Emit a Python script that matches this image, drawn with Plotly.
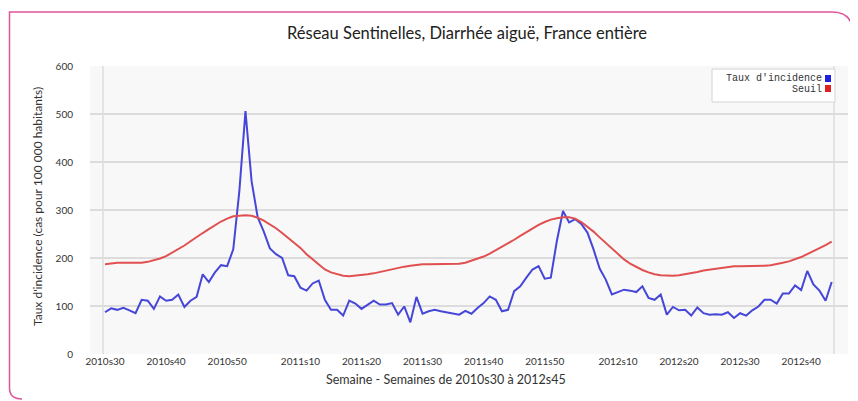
import plotly.graph_objects as go

# ---- data -------------------------------------------------------------
weeks = ([f"2010s{w:02d}" for w in range(30, 53)]
         + [f"2011s{w:02d}" for w in range(1, 53)]
         + [f"2012s{w:02d}" for w in range(1, 46)])

incidence = [87, 95, 92, 96, 91, 85, 113, 111, 94, 120,
             111, 113, 124, 98, 111, 119, 166, 150, 170, 185,
             183, 218, 340, 506, 360, 285, 255, 220, 208, 200,
             164, 162, 138, 132, 147, 153, 113, 92, 92, 80,
             111, 105, 94, 103, 111, 103, 103, 106, 82, 99,
             66, 119, 84, 89, 92, 89, 87, 84, 82, 90,
             84, 96, 106, 120, 113, 89, 92, 131, 141, 159,
             176, 183, 157, 159, 236, 298, 274, 281, 271, 253,
             218, 178, 155, 124, 129, 134, 132, 129, 141, 117,
             113, 124, 82, 98, 91, 92, 80, 97, 85, 82,
             83, 82, 87, 75, 85, 80, 91, 99, 113, 113,
             105, 126, 126, 143, 133, 173, 145, 132, 111, 150]

seuil = [187, 189, 190, 190, 190, 190, 190, 192, 195, 199,
         204, 211, 218, 226, 235, 244, 252, 260, 268, 276,
         282, 287, 288, 289, 288, 284, 278, 270, 262, 252,
         242, 232, 221, 208, 197, 185, 176, 170, 166, 163,
         162, 163, 164, 166, 168, 171, 174, 177, 180, 182,
         184, 186, 187, 187, 187, 187, 187, 187, 188, 190,
         194, 198, 203, 209, 216, 223, 230, 238, 246, 254,
         262, 269, 275, 280, 283, 285, 285, 282, 275, 265,
         255, 243, 231, 220, 208, 197, 188, 181, 175, 170,
         166, 164, 163, 163, 164, 166, 168, 171, 174, 176,
         178, 180, 182, 183, 183, 183, 184, 184, 184, 185,
         187, 190, 193, 197, 202, 208, 214, 220, 227, 234]

tick_labels = ["2010s30", "2010s40", "2010s50", "2011s10", "2011s20",
               "2011s30", "2011s40", "2011s50", "2012s10", "2012s20",
               "2012s30", "2012s40"]
tick_weeks = ["2010s30", "2010s40", "2010s50", "2011s10", "2011s20",
              "2011s30", "2011s40", "2011s50", "2012s10", "2012s20",
              "2012s30", "2012s40"]

# ---- layout geometry (reference pixel coords, page has 8px body margin) --
W, H = 858, 401
OFF = 8
PL, PR, PT, PB = 90, 848, 66, 354          # plot area in reference pixels
ML, MT = PL - OFF, PT - OFF
MR, MB = W - (PR - OFF), H - (PB - OFF)
PW, PH = PR - PL, PB - PT


def px(x):
    return (x - PL) / PW


def py(y):
    return (PB - y) / PH


fig = go.Figure()
fig.add_trace(go.Scatter(x=weeks, y=incidence, mode="lines",
                         name="Taux d'incidence",
                         line=dict(color="#4646d8", width=2)))
fig.add_trace(go.Scatter(x=weeks, y=seuil, mode="lines", name="Seuil",
                         line=dict(color="#e05050", width=2)))

shapes = []
for xx in (103, 834):
    shapes.append(dict(type="line", xref="paper", yref="paper",
                       x0=px(xx), x1=px(xx), y0=0, y1=1,
                       line=dict(color="#dedede", width=1.5), layer="below"))
shapes.append(dict(type="rect", xref="paper", yref="paper",
                   x0=px(712), x1=px(835), y0=py(69), y1=py(102),
                   fillcolor="white", line=dict(color="#d4d4d4", width=1)))
shapes.append(dict(type="rect", xref="paper", yref="paper",
                   x0=px(825), x1=px(831), y0=py(75), y1=py(82),
                   fillcolor="#2020e0", line=dict(width=0)))
shapes.append(dict(type="rect", xref="paper", yref="paper",
                   x0=px(825), x1=px(831), y0=py(85), y1=py(92),
                   fillcolor="#e02020", line=dict(width=0)))
LX = 9.5
frame = (f"M {px(LX)},{py(388)} L {px(LX)},{py(12)} L {px(832)},{py(12)} "
         f"Q {px(853)},{py(12)} {px(853)},{py(34)} L {px(853)},{py(400)}")
shapes.append(dict(type="path", xref="paper", yref="paper", path=frame,
                   line=dict(color="#e0559c", width=1.5)))
bottom = f"M {px(LX)},{py(388)} Q {px(LX)},{py(399)} {px(22)},{py(399)}"
shapes.append(dict(type="path", xref="paper", yref="paper", path=bottom,
                   line=dict(color="#e0559c", width=1.5)))

annotations = [
    dict(text="Réseau Sentinelles, Diarrhée aiguë, France entière",
         xref="paper", yref="paper", x=px(467), y=py(33),
         xanchor="center", yanchor="middle", showarrow=False,
         font=dict(family="Lato", size=16.5, color="#222222")),
    dict(text="Semaine - Semaines de 2010s30 à 2012s45",
         xref="paper", yref="paper", x=px(446), y=py(379),
         xanchor="center", yanchor="middle", showarrow=False,
         font=dict(family="Lato", size=12.5, color="#333333")),
    dict(text="Taux d'incidence (cas pour 100 000 habitants)",
         xref="paper", yref="paper", x=px(37), y=py(207), textangle=-90,
         xanchor="center", yanchor="middle", showarrow=False,
         font=dict(family="Lato", size=12, color="#333333")),
    dict(text="Taux d'incidence", xref="paper", yref="paper",
         x=px(824), y=py(79), xanchor="right", yanchor="middle",
         showarrow=False,
         font=dict(family="Liberation Mono", size=10, color="#333333")),
    dict(text="Seuil", xref="paper", yref="paper",
         x=px(824), y=py(89), xanchor="right", yanchor="middle",
         showarrow=False,
         font=dict(family="Liberation Mono", size=10, color="#333333")),
]

fig.update_layout(
    width=W, height=H,
    margin=dict(l=ML, r=MR, t=MT, b=MB, pad=0),
    paper_bgcolor="white", plot_bgcolor="#f8f8f8",
    showlegend=False,
    shapes=shapes, annotations=annotations,
    xaxis=dict(type="category", range=[-2.46, 121.67],
               tickmode="array", tickvals=tick_weeks, ticktext=tick_labels,
               showgrid=False, zeroline=False, showline=False,
               ticks="", tickfont=dict(family="Lato", size=10, color="#333333")),
    yaxis=dict(range=[0, 600], tickvals=[0, 100, 200, 300, 400, 500, 600],
               showgrid=True, gridcolor="#dcdcdc", gridwidth=2,
               zeroline=False, showline=False,
               ticks="outside", ticklen=14, tickcolor="rgba(0,0,0,0)",
               tickfont=dict(family="Lato", size=10, color="#333333")),
)

fig.write_html("out.html")
